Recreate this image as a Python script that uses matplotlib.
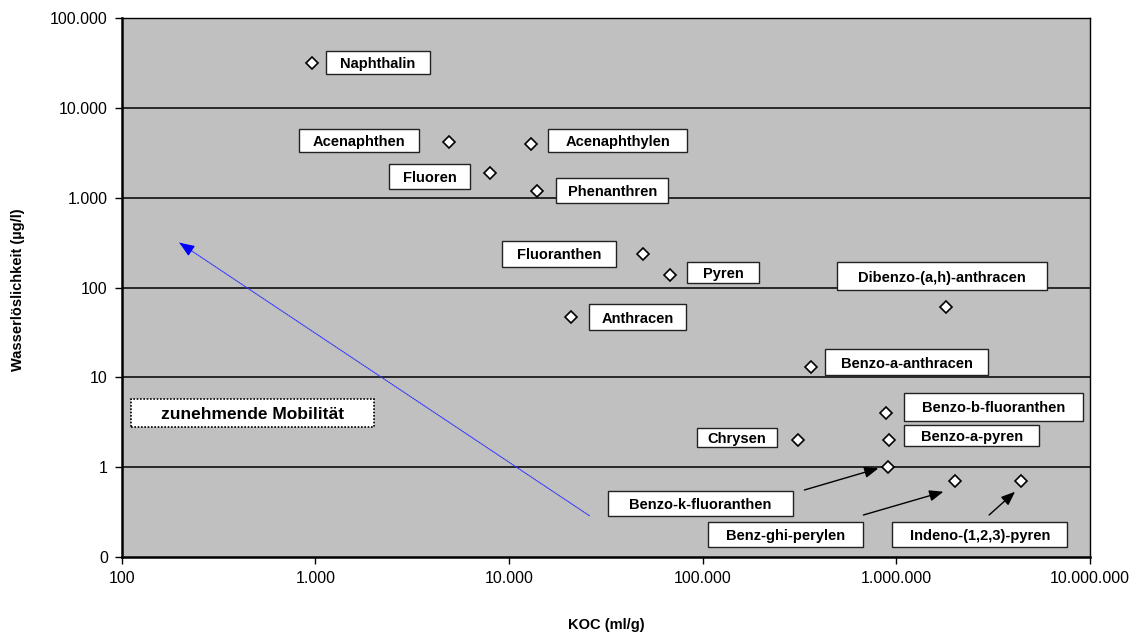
import numpy as np
import matplotlib
matplotlib.use("Agg")
import matplotlib.pyplot as plt
from matplotlib.patches import Rectangle

plt.rcParams['font.family'] = ['Liberation Sans', 'DejaVu Sans']

# ---- data ----
names = ["Naphthalin", "Acenaphthen", "Acenaphthylen", "Fluoren", "Phenanthren",
         "Fluoranthen", "Pyren", "Anthracen", "Dibenzo-(a,h)-anthracen",
         "Benzo-a-anthracen", "Benzo-b-fluoranthen", "Benzo-a-pyren", "Chrysen",
         "Benzo-k-fluoranthen", "Benz-ghi-perylen", "Indeno-(1,2,3)-pyren"]
koc = [960, 4900, 13000, 8000, 14000, 49000, 68000, 21000, 1.8e6,
       3.6e5, 8.8e5, 9.2e5, 3.1e5, 9.0e5, 2.0e6, 4.4e6]
solubility = [31700, 4150, 3950, 1880, 1200, 235, 138, 47, 61,
              12.9, 4.0, 2.0, 2.0, 1.0, 0.7, 0.7]

x_ticks = [1e2, 1e3, 1e4, 1e5, 1e6, 1e7]
x_ticklabels = ["100", "1.000", "10.000", "100.000", "1.000.000", "10.000.000"]
y_ticks = [0.1, 1, 10, 100, 1e3, 1e4, 1e5]
y_ticklabels = ["0", "1", "10", "100", "1.000", "10.000", "100.000"]

# label boxes (axes fraction: x0, y0, w, h)
label_boxes = [
    (0.2113, 0.8960, 0.1066, 0.0438),
    (0.1828, 0.7522, 0.1243, 0.0416),
    (0.4406, 0.7522, 0.1436, 0.0416),
    (0.2760, 0.6824, 0.0837, 0.0475),
    (0.4485, 0.6564, 0.1160, 0.0475),
    (0.3927, 0.5386, 0.1181, 0.0477),
    (0.5841, 0.5089, 0.0740, 0.0390),
    (0.4829, 0.4211, 0.0996, 0.0477),
    (0.7384, 0.4948, 0.2175, 0.0531),
    (0.7263, 0.3375, 0.1687, 0.0477),
    (0.8082, 0.2526, 0.1849, 0.0520),
    (0.8082, 0.2062, 0.1391, 0.0379),
    (0.5944, 0.2043, 0.0820, 0.0353),
    (0.5025, 0.0762, 0.1904, 0.0464),
    (0.6058, 0.0186, 0.1601, 0.0464),
    (0.7958, 0.0186, 0.1807, 0.0464),
]
# black pointer arrows (tail -> tip, axes fraction)
pointer_arrows = [
    ((0.7049, 0.1239), (0.7814, 0.1642)),
    ((0.7659, 0.0775), (0.8485, 0.1207)),
    ((0.8957, 0.0775), (0.9225, 0.1207)),
]
mob_box = (0.0093, 0.2403, 0.2516, 0.0526)
mob_text = "zunehmende Mobilität"
mob_arrow = ((0.4829, 0.0762), (0.0595, 0.5832))

# ---- figure ----
fig = plt.figure(figsize=(11.41, 6.33), dpi=100)
ax = fig.add_axes([0.1067, 0.1205, 0.8487, 0.8506])
ax.set_facecolor('#C0C0C0')
ax.set_xscale('log')
ax.set_yscale('log')
ax.set_xlim(1e2, 1e7)
ax.set_ylim(0.1, 1e5)

for yv in y_ticks[1:]:
    ax.axhline(yv, color='black', lw=1.1, zorder=1)

ax.set_xticks(x_ticks)
ax.set_xticklabels(x_ticklabels)
ax.set_yticks(y_ticks)
ax.set_yticklabels(y_ticklabels)
ax.minorticks_off()
ax.tick_params(axis='both', which='major', direction='out', length=5, width=1,
               labelsize=11.5, pad=5, colors='black')

for side in ['left', 'bottom']:
    ax.spines[side].set_linewidth(1.8)
for side in ['top', 'right']:
    ax.spines[side].set_linewidth(1.0)

ax.plot(koc, solubility, linestyle='none', marker='D', markersize=6.5,
        markerfacecolor='white', markeredgecolor='black', markeredgewidth=1.2,
        zorder=5)

txt_dy = -0.003
for name, (x0, y0, w, h) in zip(names, label_boxes):
    ax.add_patch(Rectangle((x0, y0), w, h, transform=ax.transAxes,
                           facecolor='white', edgecolor='#222222', lw=1.0, zorder=3))
    ax.text(x0 + w / 2, y0 + h / 2 + txt_dy, name, transform=ax.transAxes,
            ha='center', va='center', fontsize=10.5, fontweight='bold', zorder=4)

for (tail, tip) in pointer_arrows:
    ax.annotate('', xy=tip, xytext=tail, xycoords='axes fraction',
                textcoords='axes fraction',
                arrowprops=dict(arrowstyle='-|>,head_length=0.7,head_width=0.28',
                                mutation_scale=12, color='black', lw=1.0,
                                shrinkA=0, shrinkB=0), zorder=6)

x0, y0, w, h = mob_box
ax.add_patch(Rectangle((x0, y0), w, h, transform=ax.transAxes, facecolor='white',
                       edgecolor='black', lw=1.2, linestyle=(0, (1, 1)), zorder=3))
ax.text(x0 + w / 2, y0 + h / 2 + txt_dy, mob_text, transform=ax.transAxes,
        ha='center', va='center', fontsize=12.5, fontweight='bold', zorder=4)

(tx, ty), (hx, hy) = mob_arrow
ax.annotate('', xy=(hx, hy), xytext=(tx, ty), xycoords='axes fraction',
            textcoords='axes fraction',
            arrowprops=dict(arrowstyle='-', color='#3030ff', lw=0.8,
                            linestyle=(0, (1, 1)), shrinkA=0, shrinkB=0), zorder=6)
vec = np.array([hx - tx, hy - ty]) * np.array([968.3, 538.4])
unit = vec / np.linalg.norm(vec)
back = np.array([hx, hy]) - unit * 14 / np.array([968.3, 538.4])
ax.annotate('', xy=(hx, hy), xytext=tuple(back), xycoords='axes fraction',
            textcoords='axes fraction',
            arrowprops=dict(arrowstyle='-|>,head_length=0.75,head_width=0.3',
                            mutation_scale=12, color='#0000ff', lw=0.9,
                            shrinkA=0, shrinkB=0), zorder=6)

fig.text(0.531, 0.0126, "KOC (ml/g)", ha='center', va='center', fontsize=10.5,
         fontweight='bold')
fig.text(0.0158, 0.542, "Wasserlöslichkeit (µg/l)", ha='center', va='center',
         rotation=90, fontsize=10.5, fontweight='bold')

fig.savefig('out.png', dpi=100, facecolor='white')
